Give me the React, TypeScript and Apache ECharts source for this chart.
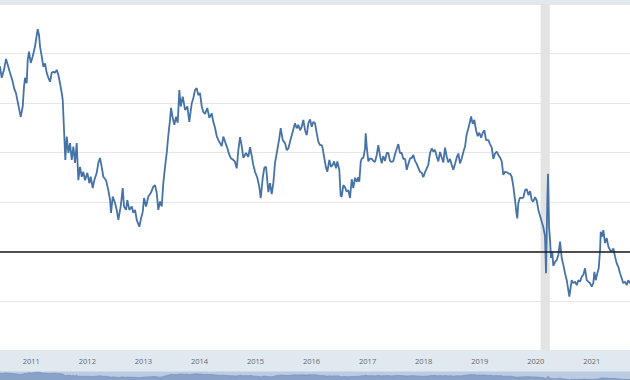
import React, { useEffect, useRef } from "react";
import * as echarts from "echarts";

// Decimal-year dates and values
const years: number[] = [
  2010.40, 2010.442, 2010.472, 2010.513, 2010.549, 2010.590, 2010.620, 2010.669, 2010.692, 2010.727, 2010.751,
  2010.786, 2010.811, 2010.847, 2010.870, 2010.888, 2010.918, 2010.936, 2010.959, 2010.990, 2011.025,
  2011.066, 2011.097, 2011.115, 2011.138, 2011.156, 2011.186, 2011.215, 2011.245, 2011.275, 2011.304,
  2011.334, 2011.364, 2011.393, 2011.423, 2011.454, 2011.482, 2011.512, 2011.543, 2011.561, 2011.584,
  2011.607, 2011.632, 2011.661, 2011.691, 2011.721, 2011.750, 2011.780, 2011.810, 2011.839, 2011.869,
  2011.900, 2011.928, 2011.958, 2012.000, 2012.035, 2012.060, 2012.096, 2012.124, 2012.167, 2012.196,
  2012.226, 2012.256, 2012.285, 2012.333, 2012.374, 2012.405, 2012.422, 2012.453, 2012.494, 2012.524,
  2012.553, 2012.595, 2012.631, 2012.654, 2012.690, 2012.713, 2012.749, 2012.792, 2012.820, 2012.851,
  2012.881, 2012.927, 2012.952, 2012.988, 2013.011, 2013.047, 2013.088, 2013.131, 2013.177, 2013.207,
  2013.238, 2013.266, 2013.297, 2013.327, 2013.355, 2013.386, 2013.416, 2013.445, 2013.475, 2013.493,
  2013.523, 2013.552, 2013.582, 2013.612, 2013.641, 2013.666, 2013.702, 2013.743, 2013.784, 2013.819,
  2013.862, 2013.891, 2013.921, 2013.951, 2013.980, 2014.010, 2014.041, 2014.069, 2014.099, 2014.140,
  2014.176, 2014.219, 2014.247, 2014.278, 2014.308, 2014.337, 2014.367, 2014.397, 2014.426, 2014.456,
  2014.497, 2014.533, 2014.558, 2014.604, 2014.635, 2014.665, 2014.694, 2014.724, 2014.754, 2014.783,
  2014.831, 2014.872, 2014.902, 2014.933, 2014.961, 2014.991, 2015.033, 2015.068, 2015.093, 2015.129,
  2015.157, 2015.188, 2015.229, 2015.259, 2015.289, 2015.318, 2015.348, 2015.389, 2015.425, 2015.450,
  2015.486, 2015.527, 2015.557, 2015.586, 2015.616, 2015.664, 2015.705, 2015.735, 2015.764, 2015.794,
  2015.825, 2015.853, 2015.884, 2015.914, 2015.942, 2015.973, 2016.003, 2016.032, 2016.062, 2016.092,
  2016.121, 2016.151, 2016.181, 2016.199, 2016.222, 2016.258, 2016.281, 2016.317, 2016.347, 2016.378,
  2016.401, 2016.437, 2016.460, 2016.495, 2016.520, 2016.538, 2016.567, 2016.597, 2016.627, 2016.656,
  2016.686, 2016.717, 2016.745, 2016.776, 2016.806, 2016.834, 2016.852, 2016.877, 2016.895, 2016.924,
  2016.954, 2016.966, 2016.984, 2017.013, 2017.043, 2017.073, 2017.102, 2017.132, 2017.163, 2017.191,
  2017.222, 2017.252, 2017.280, 2017.311, 2017.341, 2017.370, 2017.400, 2017.430, 2017.459, 2017.489,
  2017.519, 2017.548, 2017.578, 2017.609, 2017.637, 2017.668, 2017.698, 2017.727, 2017.757, 2017.787,
  2017.816, 2017.846, 2017.876, 2017.905, 2017.935, 2017.966, 2017.994, 2018.024, 2018.055, 2018.083,
  2018.114, 2018.144, 2018.173, 2018.203, 2018.233, 2018.262, 2018.292, 2018.322, 2018.351, 2018.381,
  2018.411, 2018.440, 2018.470, 2018.501, 2018.529, 2018.560, 2018.590, 2018.619, 2018.649, 2018.679,
  2018.708, 2018.738, 2018.768, 2018.797, 2018.827, 2018.845, 2018.875, 2018.904, 2018.934, 2018.964,
  2018.993, 2019.024, 2019.054, 2019.083, 2019.113, 2019.154, 2019.184, 2019.215, 2019.243, 2019.273,
  2019.304, 2019.332, 2019.363, 2019.393, 2019.421, 2019.452, 2019.482, 2019.511, 2019.541, 2019.571,
  2019.600, 2019.630, 2019.657, 2019.671, 2019.689, 2019.719, 2019.750, 2019.778, 2019.809, 2019.839,
  2019.868, 2019.898, 2019.928, 2019.957, 2019.987, 2020.017, 2020.046, 2020.076, 2020.106, 2020.135,
  2020.165, 2020.183, 2020.206, 2020.219, 2020.237, 2020.255, 2020.272, 2020.295, 2020.313, 2020.344,
  2020.374, 2020.403, 2020.433, 2020.463, 2020.492, 2020.522, 2020.552, 2020.581, 2020.599, 2020.624,
  2020.642, 2020.670, 2020.700, 2020.731, 2020.760, 2020.790, 2020.820, 2020.849, 2020.879, 2020.909,
  2020.938, 2020.968, 2020.999, 2021.027, 2021.045, 2021.070, 2021.098, 2021.123, 2021.147, 2021.159,
  2021.182, 2021.205, 2021.236, 2021.266, 2021.295, 2021.325, 2021.355, 2021.384, 2021.414, 2021.444,
  2021.473, 2021.503, 2021.533, 2021.562, 2021.593, 2021.623, 2021.652, 2021.682, 2021.72,
];

const values: number[] = [
  5.75, 5.73, 5.51, 5.67, 5.89, 5.73, 5.61, 5.43, 5.30, 5.20, 5.06,
  4.86, 4.72, 4.93, 5.33, 5.51, 5.40, 5.87, 6.04, 5.81, 5.94,
  6.14, 6.37, 6.49, 6.37, 6.14, 5.94, 5.73, 5.80, 5.61, 5.51,
  5.43, 5.61, 5.63, 5.61, 5.67, 5.57, 5.40, 5.20, 5.06, 4.45,
  3.85, 4.32, 3.99, 4.19, 3.85, 4.12, 3.79, 4.19, 3.44, 3.71,
  3.51, 3.61, 3.44, 3.59, 3.38, 3.51, 3.28, 3.44, 3.59, 3.79,
  3.89, 3.71, 3.51, 3.44, 3.24, 3.04, 2.78, 3.11, 2.98, 2.84,
  2.64, 2.91, 3.28, 2.91, 2.84, 3.04, 2.84, 2.91, 2.78, 2.84,
  2.64, 2.50, 2.64, 2.80, 3.08, 2.91, 3.11, 3.18, 3.31, 3.34,
  3.18, 2.84, 3.01, 2.91, 3.38, 3.71, 3.99, 4.35, 4.66, 4.90,
  4.70, 4.56, 4.72, 4.60, 5.26, 4.93, 5.13, 4.86, 4.93, 4.62,
  4.99, 5.10, 5.26, 5.30, 5.16, 5.20, 4.93, 4.82, 4.78, 4.90,
  4.70, 4.79, 4.62, 4.50, 4.33, 4.25, 4.19, 4.13, 4.32, 4.22,
  4.09, 3.95, 3.89, 3.85, 3.81, 3.68, 4.05, 4.31, 4.13, 3.89,
  3.99, 3.91, 4.11, 3.93, 3.75, 3.61, 3.49, 3.30, 3.08, 3.49,
  3.69, 3.71, 3.20, 3.38, 3.16, 3.38, 3.79, 4.05, 4.29, 4.49,
  4.25, 4.19, 4.05, 4.08, 4.22, 4.42, 4.59, 4.49, 4.56, 4.45,
  4.52, 4.66, 4.45, 4.35, 4.59, 4.67, 4.52, 4.62, 4.59, 4.39,
  4.22, 4.15, 4.15, 4.08, 3.92, 3.69, 3.61, 3.85, 3.71, 3.75,
  3.82, 3.68, 3.82, 3.65, 3.12, 3.11, 3.34, 3.30, 3.21, 3.24,
  3.08, 3.46, 3.28, 3.49, 3.41, 3.50, 3.41, 3.81, 3.88, 3.89,
  4.08, 4.39, 4.12, 3.82, 3.88, 3.87, 3.83, 3.81, 3.95, 4.15,
  3.93, 3.78, 3.93, 3.83, 3.99, 3.99, 3.83, 3.81, 3.83, 3.97,
  4.07, 4.17, 3.99, 3.99, 3.87, 3.87, 3.65, 3.77, 3.88, 3.89,
  3.95, 3.83, 3.77, 3.69, 3.61, 3.59, 3.50, 3.60, 3.68, 3.75,
  3.99, 4.08, 4.02, 4.05, 3.92, 3.82, 4.01, 3.90, 3.80, 4.10,
  3.92, 3.80, 3.87, 3.75, 3.65, 3.77, 3.90, 3.98, 3.78, 3.88,
  4.01, 4.12, 4.37, 4.49, 4.62, 4.73, 4.58, 4.66, 4.45, 4.33,
  4.40, 4.30, 4.40, 4.45, 4.25, 4.25, 4.17, 4.10, 3.87, 3.98,
  4.02, 3.95, 3.90, 3.82, 3.55, 3.61, 3.60, 3.58, 3.57, 3.51,
  3.31, 3.04, 2.76, 2.67, 2.98, 3.09, 3.08, 3.09, 3.24, 3.26,
  3.14, 3.22, 3.04, 3.01, 3.10, 3.03, 2.84, 2.72, 2.60, 2.49,
  2.31, 1.56, 3.04, 3.57, 2.50, 2.23, 1.87, 1.99, 1.71, 1.79,
  1.83, 1.93, 2.20, 1.87, 1.73, 1.56, 1.42, 1.22, 1.09, 1.29,
  1.42, 1.36, 1.39, 1.32, 1.42, 1.39, 1.49, 1.53, 1.66, 1.42,
  1.39, 1.36, 1.29, 1.36, 1.59, 1.42, 1.56, 1.66, 2.03, 2.40,
  2.30, 2.43, 2.17, 2.27, 2.10, 2.03, 2.00, 2.06, 1.90, 1.76,
  1.69, 1.56, 1.46, 1.36, 1.39, 1.32, 1.42, 1.36, 1.40,
];

const yearTicks: number[] = [2011, 2012, 2013, 2014, 2015, 2016, 2017, 2018, 2019, 2020, 2021];
const recession: [number, number] = [2020.085, 2020.25];
const referenceLevel = 2;
const xRange: [number, number] = [2010.4416, 2021.6812];

export default function App() {
  const ref = useRef<HTMLDivElement>(null);

  useEffect(() => {
    if (!ref.current) return;
    const chart = echarts.init(ref.current, undefined, { renderer: "svg" });
    const data = years.map((y, i) => [y, values[i]]);
    chart.setOption({
      animation: false,
      backgroundColor: "#e1e9f0",
      grid: [
        { left: 0, right: 0, top: 4, bottom: 29.5, show: true, backgroundColor: "#ffffff", borderWidth: 0 },
        { left: 0, right: 0, top: 371.5, bottom: 0, show: true, backgroundColor: "#bccbe2", borderWidth: 0 },
      ],
      xAxis: [
        {
          type: "value",
          gridIndex: 0,
          min: xRange[0],
          max: xRange[1],
          axisLine: { show: false },
          axisTick: { show: false },
          splitLine: { show: false },
          axisLabel: {
            customValues: yearTicks,
            formatter: (v: number) => String(Math.round(v)),
            color: "#666666",
            fontSize: 7.5,
            fontFamily: "Open Sans",
            margin: 6,
          },
        },
        {
          type: "value",
          gridIndex: 1,
          min: xRange[0],
          max: xRange[1],
          show: false,
        },
      ],
      yAxis: [
        {
          type: "value",
          gridIndex: 0,
          min: 0,
          max: 7,
          interval: 1,
          axisLabel: { show: false },
          axisLine: { show: false },
          axisTick: { show: false },
          splitLine: { show: true, lineStyle: { color: "#e6e6e6", width: 1 } },
        },
        { type: "value", gridIndex: 1, min: 0.9, max: 6.9, show: false },
      ],
      series: [
        {
          type: "line",
          xAxisIndex: 0,
          yAxisIndex: 0,
          data,
          showSymbol: false,
          symbol: "none",
          lineStyle: { color: "#4572a7", width: 1.8 },
          z: 3,
          markArea: {
            silent: true,
            itemStyle: { color: "#e3e3e3" },
            data: [[{ xAxis: recession[0] }, { xAxis: recession[1] }]],
          },
          markLine: {
            silent: true,
            symbol: "none",
            label: { show: false },
            lineStyle: { color: "#1a1a1a", width: 1.5, type: "solid" },
            data: [{ yAxis: referenceLevel }],
          },
        },
        {
          type: "line",
          xAxisIndex: 1,
          yAxisIndex: 1,
          data,
          showSymbol: false,
          symbol: "none",
          lineStyle: { color: "#6f8cba", width: 0.6 },
          areaStyle: { color: "#8aa2c8", opacity: 1 },
        },
      ],
    });
    return () => chart.dispose();
  }, []);

  return (
    <div
      ref={ref}
      style={{ position: "fixed", left: 0, top: 0, width: 630, height: 380 }}
    />
  );
}
